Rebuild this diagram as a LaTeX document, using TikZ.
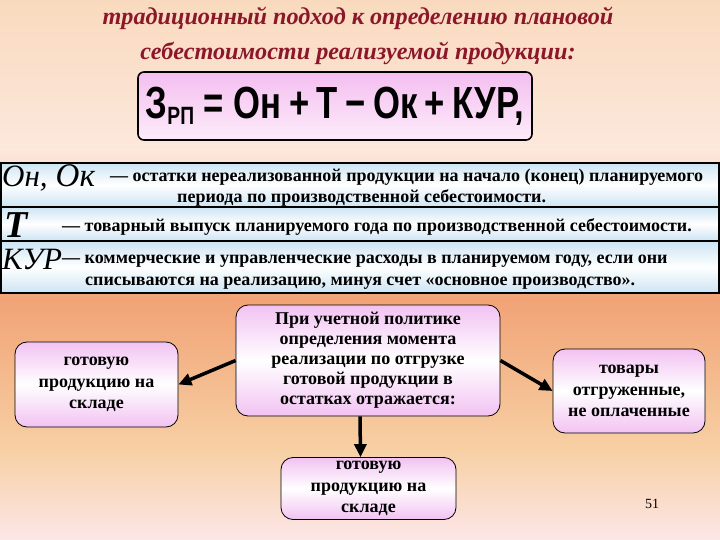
\documentclass[tikz,border=0pt]{standalone}
\usepackage{fontspec}
\setmainfont{Liberation Serif}
\newfontfamily\frmfont[FakeStretch=0.77]{Liberation Sans}
\usetikzlibrary{arrows.meta}

\definecolor{bgtop}{RGB}{249,218,190}
\definecolor{bglight}{RGB}{252,232,220}
\definecolor{bgorange}{RGB}{241,163,118}
\definecolor{bgpeach}{RGB}{247,208,164}
\definecolor{bgpink}{RGB}{252,230,232}
\definecolor{ttlred}{RGB}{140,22,42}
\definecolor{boxpink}{RGB}{242,194,242}
\definecolor{frmpink}{RGB}{244,190,240}
\definecolor{frmlight}{RGB}{253,236,250}
\definecolor{rowblue}{RGB}{204,228,244}

\tikzset{
  blk/.style={draw=black,line width=0.8pt,rounded corners=12pt,top color=boxpink,bottom color=boxpink,middle color=white,
    align=center,inner sep=0pt,font=\bfseries\fontsize{18}{21.5}\selectfont},
  defrow/.style={draw=black,line width=1.2pt,top color=rowblue,bottom color=rowblue,middle color=white,
    minimum width=718pt,inner sep=0pt},
  txt/.style={anchor=base west,inner sep=0pt,font=\bfseries\fontsize{18}{20}\selectfont},
  sym/.style={anchor=base west,inner sep=0pt,font=\itshape\fontsize{31}{31}\selectfont},
  ttlfont/.style={anchor=base,inner sep=0pt,text=ttlred,font=\bfseries\itshape\fontsize{24.2}{24.2}\selectfont},
  arr/.style={line width=3.5pt,-{Triangle[length=13pt,width=12pt]}},
}

\begin{document}
\begin{tikzpicture}[x=1pt,y=-1pt]
\useasboundingbox (0,0) rectangle (720,540);

% background
\shade[top color=bgtop,bottom color=bglight] (0,0) rectangle (720,150);
\shade[top color=bglight,bottom color=bgorange] (0,150) rectangle (720,300);
\shade[top color=bgorange,bottom color=bgpeach] (0,300) rectangle (720,450);
\shade[top color=bgpeach,bottom color=bgpink] (0,450) rectangle (720,540);

% title
\node[ttlfont] (ttl1) at (358,25) {традиционный подход к определению плановой};
\node[ttlfont] (ttl2) at (358,60) {себестоимости реализуемой продукции:};

% formula
\node[draw=black,line width=1.6pt,rounded corners=6pt,top color=frmpink,bottom color=frmlight,
  minimum width=394pt,minimum height=68pt,inner sep=0pt,font=\frmfont\bfseries\fontsize{45}{45}\selectfont] (frm) at (335,106)
  {З\raisebox{-6pt}{\fontsize{25}{25}\selectfont РП} = Он\,+\,Т\,−\,Ок\,+\,КУР,};

% definitions
\node[defrow,minimum height=44pt] (r1) at (360,185) {};
\node[defrow,minimum height=34pt] (r2) at (360,224) {};
\node[defrow,minimum height=52pt] (r3) at (360,267) {};

\node[sym] (sok) at (2,187) {Он,\hspace{8pt}{\fontsize{33}{33}\selectfont Ок}};
\node[sym,font=\bfseries\itshape\fontsize{38}{38}\selectfont] (st) at (4,237) {Т};
\node[sym] (skur) at (2,269) {КУР};

\node[txt] (d1a) at (110,182) {— остатки нереализованной продукции на начало (конец) планируемого};
\node[txt] (d1b) at (177,203) {периода по производственной себестоимости.};
\node[txt] (d2) at (62,232) {— товарный выпуск планируемого года по производственной себестоимости.};
\node[txt] (d3a) at (62,263) {— коммерческие и управленческие расходы в планируемом году, если они};
\node[txt] (d3b) at (85,285) {списываются на реализацию, минуя счет «основное производство».};

% scheme
\node[blk,minimum width=264pt,minimum height=111pt,font=\bfseries\fontsize{18}{20}\selectfont] (pol) at (368,360.5)
  {При учетной политике\\определения момента\\реализации по отгрузке\\готовой продукции в\\остатках отражается:};
\node[blk,minimum width=163pt,minimum height=85pt] (gpl) at (96.5,384.5) {готовую\\продукцию на\\складе};
\node[blk,minimum width=152pt,minimum height=84pt] (tov) at (629,391) {товары\\отгруженные,\\не оплаченные};
\node[blk,minimum width=175pt,minimum height=62pt] (gpn) at (368.5,488.5) {готовую\\продукцию на\\складе};

\draw[arr] (pol.west) -- (gpl.east);
\draw[arr] (pol.east) -- (tov.west);
\draw[arr] ([xshift=-8pt]pol.south) -- ([xshift=-8pt]gpn.north);

\node[anchor=base,inner sep=0pt,font=\fontsize{14}{14}\selectfont] (pg) at (652,508) {51};
\end{tikzpicture}
\end{document}
